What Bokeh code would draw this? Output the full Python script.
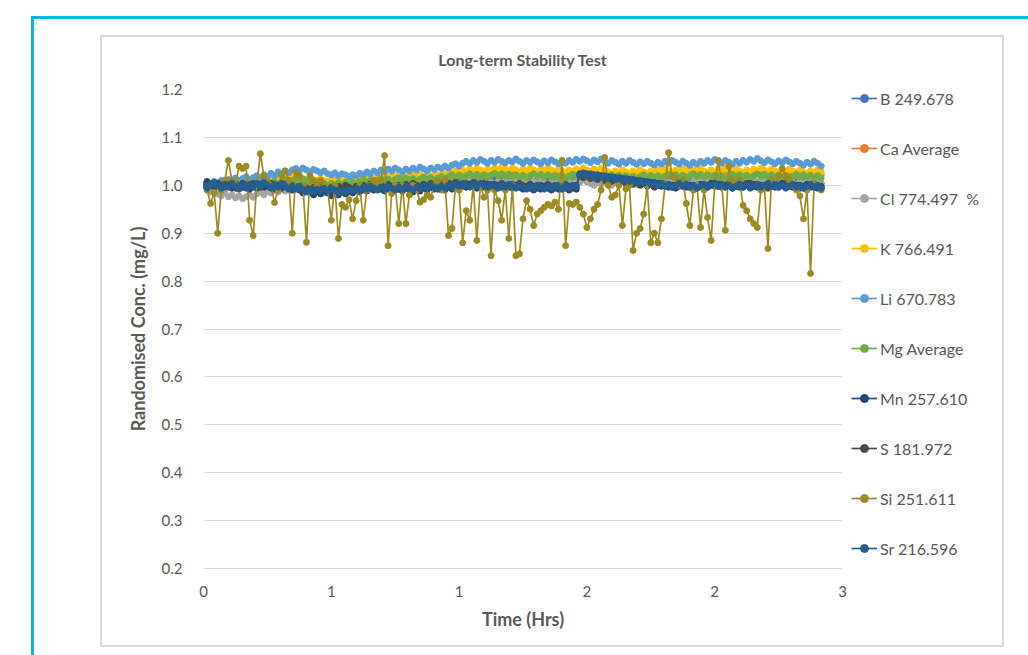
from bokeh.plotting import figure
from bokeh.layouts import row
from bokeh.models import (Legend, LegendItem, FixedTicker, NumeralTickFormatter, Range1d,
                          LinearAxis)
from bokeh.embed import file_html
from bokeh.resources import INLINE

title_text = "Long-term Stability Test"
x_label = "Time (Hrs)"
y_label = "Randomised Conc. (mg/L)"

series_names = ["B 249.678", "Ca Average", "Cl 774.497  %", "K 766.491", "Li 670.783",
                "Mg Average", "Mn 257.610", "S 181.972", "Si 251.611", "Sr 216.596"]
series_colors = ["#4472C4", "#ED7D31", "#A5A5A5", "#FFC000", "#5B9BD5",
                 "#70AD47", "#264478", "#4A4A4A", "#9C8B23", "#255E91"]

x_ticks = [0, 0.6, 1.2, 1.8, 2.4, 3]
y_ticks = [0.2, 0.3, 0.4, 0.5, 0.6, 0.7, 0.8, 0.9, 1.0, 1.1, 1.2]

b_249 = [
    1.000, 1.006, 1.002, 0.998, 1.004, 1.000, 1.006, 1.002, 0.998, 1.004, 1.000, 0.996, 1.002, 0.998, 1.004, 1.000, 1.006, 1.002, 0.998, 1.004, 1.000, 1.006, 1.002, 1.008, 1.004,
    1.010, 1.006, 1.012, 1.008, 1.004, 1.010, 1.006, 1.002, 1.008, 1.004, 1.000, 1.006, 1.002, 0.998, 1.004, 1.000, 1.006, 1.002, 1.008, 1.004, 1.010, 1.006, 1.002, 1.008, 1.004,
    1.010, 1.006, 1.002, 1.008, 1.004, 1.010, 1.006, 1.012, 1.008, 1.004, 1.010, 1.006, 1.002, 1.008, 1.004, 1.010, 1.006, 1.012, 1.008, 1.014, 1.010, 1.016, 1.012, 1.008, 1.014,
    1.010, 1.016, 1.012, 1.018, 1.014, 1.010, 1.016, 1.012, 1.008, 1.014, 1.010, 1.016, 1.012, 1.018, 1.014, 1.010, 1.016, 1.012, 1.008, 1.014, 1.010, 1.016, 1.012, 1.008, 1.014,
    1.010, 1.016, 1.012, 1.018, 1.014, 1.010, 1.016, 1.012, 1.008, 1.014, 1.010, 1.006, 1.012, 1.008, 1.014, 1.010, 1.016, 1.012, 1.008, 1.014, 1.010, 1.006, 1.012, 1.008, 1.014,
    1.010, 1.016, 1.012, 1.008, 1.014, 1.010, 1.016, 1.012, 1.018, 1.014, 1.010, 1.016, 1.012, 1.008, 1.014, 1.010, 1.006, 1.012, 1.008, 1.014, 1.010, 1.016, 1.012, 1.008, 1.014,
    1.010, 1.016, 1.012, 1.008, 1.014, 1.010, 1.006, 1.012, 1.008, 1.014, 1.010, 1.016, 1.012, 1.008, 1.014, 1.010, 1.006, 1.012, 1.008, 1.014, 1.010, 1.006, 1.012, 1.008, 1.004,
]
ca_avg = [
    1.000, 0.996, 1.002, 0.998, 1.004, 1.000, 0.996, 1.002, 1.006, 1.002, 0.998, 1.004, 1.000, 1.006, 1.002, 1.008, 1.004, 1.000, 1.006, 1.002, 1.008, 1.004, 1.010, 1.006, 1.012,
    1.008, 1.014, 1.010, 1.006, 1.012, 1.008, 1.004, 1.010, 1.006, 1.002, 1.008, 1.004, 1.010, 1.006, 1.002, 1.008, 1.004, 1.010, 1.006, 1.012, 1.008, 1.014, 1.010, 1.006, 1.012,
    1.008, 1.014, 1.010, 1.016, 1.012, 1.008, 1.014, 1.010, 1.016, 1.012, 1.018, 1.014, 1.010, 1.016, 1.012, 1.018, 1.014, 1.020, 1.016, 1.022, 1.018, 1.024, 1.020, 1.026, 1.022,
    1.028, 1.024, 1.020, 1.026, 1.022, 1.028, 1.024, 1.030, 1.026, 1.022, 1.028, 1.024, 1.030, 1.026, 1.022, 1.028, 1.024, 1.020, 1.026, 1.022, 1.028, 1.024, 1.030, 1.026, 1.022,
    1.028, 1.024, 1.020, 1.026, 1.022, 1.028, 1.024, 1.030, 1.026, 1.022, 1.028, 1.024, 1.020, 1.026, 1.022, 1.018, 1.024, 1.020, 1.026, 1.022, 1.018, 1.024, 1.020, 1.026, 1.022,
    1.018, 1.024, 1.020, 1.026, 1.022, 1.028, 1.024, 1.020, 1.026, 1.022, 1.028, 1.024, 1.030, 1.026, 1.022, 1.028, 1.024, 1.020, 1.026, 1.022, 1.028, 1.024, 1.030, 1.026, 1.022,
    1.028, 1.024, 1.020, 1.026, 1.022, 1.028, 1.024, 1.030, 1.026, 1.022, 1.028, 1.024, 1.020, 1.026, 1.022, 1.028, 1.024, 1.020, 1.026, 1.022, 1.018, 1.024, 1.020, 1.026, 1.022,
]
cl_774 = [
    1.000, 0.992, 0.986, 0.990, 0.982, 0.978, 0.984, 0.976, 0.980, 0.974, 0.978, 0.972, 0.976, 0.980, 0.975, 0.982, 0.986, 0.980, 0.988, 0.984, 0.990, 0.986, 0.992, 0.988, 0.994,
    0.990, 0.996, 0.992, 0.988, 0.994, 0.990, 0.986, 0.992, 0.988, 0.984, 0.990, 0.986, 0.992, 0.988, 0.994, 0.990, 0.986, 0.992, 0.988, 0.994, 0.990, 0.996, 0.992, 0.998, 0.994,
    1.000, 0.996, 1.002, 0.998, 0.994, 1.000, 0.996, 1.002, 0.998, 1.004, 1.000, 0.996, 1.002, 0.998, 1.004, 1.000, 1.006, 1.002, 0.998, 1.004, 1.000, 1.006, 1.002, 1.008, 1.004,
    1.010, 1.006, 1.002, 1.008, 1.004, 1.010, 1.006, 1.002, 1.008, 1.004, 1.010, 1.006, 1.012, 1.008, 1.004, 1.010, 1.006, 1.002, 1.008, 1.004, 1.010, 1.006, 1.002, 1.008, 1.004,
    1.010, 1.006, 1.012, 1.008, 1.004, 1.010, 1.006, 1.012, 1.008, 1.004, 1.000, 1.006, 1.002, 1.008, 1.004, 1.000, 1.006, 1.002, 1.008, 1.004, 1.010, 1.006, 1.002, 1.008, 1.004,
    1.010, 1.006, 1.002, 1.008, 1.004, 1.010, 1.006, 1.012, 1.008, 1.004, 1.010, 1.006, 1.002, 1.008, 1.004, 1.010, 1.006, 1.012, 1.008, 1.004, 1.000, 1.006, 1.002, 1.008, 1.004,
    1.010, 1.006, 1.002, 1.008, 1.004, 1.010, 1.006, 1.012, 1.008, 1.004, 1.010, 1.006, 1.002, 1.008, 1.004, 1.000, 1.006, 1.002, 1.008, 1.004, 1.010, 1.006, 1.002, 1.008, 1.004,
]
k_766 = [
    1.000, 1.003, 0.998, 1.004, 1.000, 1.006, 1.002, 1.008, 1.004, 1.000, 1.006, 1.002, 1.008, 1.004, 1.010, 1.006, 1.002, 1.008, 1.004, 1.010, 1.006, 1.012, 1.008, 1.014, 1.010,
    1.016, 1.012, 1.018, 1.014, 1.010, 1.016, 1.012, 1.008, 1.014, 1.010, 1.006, 1.012, 1.008, 1.004, 1.010, 1.006, 1.012, 1.008, 1.014, 1.010, 1.016, 1.012, 1.018, 1.014, 1.010,
    1.016, 1.012, 1.018, 1.014, 1.020, 1.016, 1.012, 1.018, 1.014, 1.020, 1.016, 1.022, 1.018, 1.014, 1.020, 1.016, 1.022, 1.018, 1.024, 1.020, 1.026, 1.030, 1.026, 1.032, 1.028,
    1.034, 1.030, 1.036, 1.032, 1.028, 1.034, 1.030, 1.036, 1.032, 1.038, 1.034, 1.030, 1.036, 1.032, 1.028, 1.034, 1.030, 1.036, 1.032, 1.028, 1.034, 1.030, 1.036, 1.032, 1.028,
    1.034, 1.030, 1.026, 1.032, 1.028, 1.034, 1.030, 1.036, 1.032, 1.028, 1.034, 1.030, 1.036, 1.032, 1.028, 1.024, 1.030, 1.026, 1.032, 1.028, 1.024, 1.030, 1.026, 1.032, 1.028,
    1.024, 1.030, 1.026, 1.032, 1.028, 1.034, 1.030, 1.026, 1.032, 1.028, 1.034, 1.030, 1.036, 1.032, 1.028, 1.034, 1.030, 1.026, 1.032, 1.028, 1.034, 1.030, 1.036, 1.032, 1.028,
    1.034, 1.030, 1.026, 1.032, 1.028, 1.034, 1.030, 1.036, 1.032, 1.028, 1.034, 1.030, 1.026, 1.032, 1.028, 1.034, 1.030, 1.026, 1.032, 1.028, 1.024, 1.030, 1.026, 1.032, 1.028,
]
li_670 = [
    1.000, 1.005, 1.002, 1.008, 1.004, 1.010, 1.006, 1.012, 1.008, 1.015, 1.010, 1.014, 1.018, 1.012, 1.016, 1.020, 1.015, 1.022, 1.018, 1.025, 1.020, 1.028, 1.024, 1.030, 1.026,
    1.032, 1.035, 1.030, 1.036, 1.032, 1.028, 1.033, 1.030, 1.026, 1.030, 1.024, 1.022, 1.026, 1.020, 1.024, 1.022, 1.018, 1.022, 1.020, 1.025, 1.022, 1.028, 1.024, 1.030, 1.026,
    1.032, 1.028, 1.034, 1.030, 1.036, 1.032, 1.028, 1.034, 1.030, 1.036, 1.032, 1.038, 1.034, 1.030, 1.036, 1.033, 1.038, 1.035, 1.040, 1.036, 1.042, 1.045, 1.040, 1.046, 1.050,
    1.046, 1.052, 1.048, 1.054, 1.050, 1.046, 1.052, 1.048, 1.054, 1.050, 1.047, 1.052, 1.049, 1.055, 1.050, 1.046, 1.052, 1.048, 1.053, 1.049, 1.045, 1.051, 1.047, 1.053, 1.049,
    1.045, 1.050, 1.046, 1.052, 1.048, 1.054, 1.050, 1.055, 1.051, 1.047, 1.053, 1.049, 1.055, 1.050, 1.046, 1.052, 1.048, 1.044, 1.050, 1.046, 1.052, 1.048, 1.044, 1.049, 1.045,
    1.050, 1.046, 1.042, 1.048, 1.044, 1.050, 1.046, 1.052, 1.048, 1.044, 1.050, 1.046, 1.042, 1.048, 1.044, 1.050, 1.046, 1.052, 1.048, 1.054, 1.050, 1.046, 1.052, 1.048, 1.044,
    1.050, 1.046, 1.052, 1.048, 1.054, 1.050, 1.056, 1.051, 1.047, 1.053, 1.049, 1.045, 1.051, 1.047, 1.053, 1.049, 1.045, 1.050, 1.046, 1.042, 1.048, 1.044, 1.050, 1.046, 1.040,
]
mg_avg = [
    1.000, 1.004, 0.999, 1.003, 0.998, 1.002, 1.006, 1.001, 1.005, 1.000, 1.004, 0.999, 1.003, 1.007, 1.002, 1.006, 1.001, 1.005, 1.009, 1.004, 1.008, 1.003, 1.007, 1.011, 1.006,
    1.010, 1.014, 1.009, 1.013, 1.008, 1.012, 1.007, 1.003, 1.008, 1.004, 0.999, 1.004, 1.000, 1.005, 1.001, 1.006, 1.002, 1.007, 1.003, 1.008, 1.012, 1.007, 1.011, 1.006, 1.010,
    1.014, 1.009, 1.013, 1.008, 1.012, 1.016, 1.011, 1.015, 1.010, 1.014, 1.009, 1.013, 1.017, 1.012, 1.016, 1.011, 1.015, 1.019, 1.014, 1.018, 1.022, 1.017, 1.021, 1.016, 1.020,
    1.024, 1.019, 1.023, 1.018, 1.022, 1.017, 1.021, 1.025, 1.020, 1.024, 1.019, 1.023, 1.018, 1.022, 1.017, 1.021, 1.016, 1.020, 1.024, 1.019, 1.023, 1.018, 1.022, 1.017, 1.021,
    1.016, 1.020, 1.015, 1.019, 1.023, 1.018, 1.022, 1.017, 1.021, 1.016, 1.020, 1.015, 1.019, 1.014, 1.018, 1.022, 1.017, 1.021, 1.016, 1.020, 1.015, 1.019, 1.014, 1.018, 1.022,
    1.017, 1.021, 1.016, 1.020, 1.015, 1.019, 1.023, 1.018, 1.022, 1.017, 1.021, 1.016, 1.020, 1.024, 1.019, 1.023, 1.018, 1.022, 1.017, 1.021, 1.016, 1.020, 1.015, 1.019, 1.023,
    1.018, 1.022, 1.017, 1.021, 1.016, 1.020, 1.024, 1.019, 1.023, 1.018, 1.022, 1.017, 1.021, 1.016, 1.020, 1.015, 1.019, 1.023, 1.018, 1.022, 1.017, 1.021, 1.016, 1.020, 1.015,
]
mn_257 = [
    1.000, 1.008, 1.002, 0.996, 1.004, 0.998, 1.006, 1.000, 0.994, 1.002, 0.996, 1.004, 0.998, 0.992, 1.000, 0.994, 1.002, 0.996, 1.004, 0.998, 0.992, 1.000, 0.994, 1.002, 0.996,
    0.990, 0.996, 0.990, 0.984, 0.990, 0.986, 0.980, 0.986, 0.982, 0.988, 0.984, 0.978, 0.984, 0.980, 0.986, 0.982, 0.988, 0.984, 0.990, 0.986, 0.992, 0.988, 0.994, 0.990, 0.996,
    0.992, 0.988, 0.994, 0.990, 0.996, 0.992, 0.988, 0.994, 0.990, 0.986, 0.992, 0.988, 0.994, 0.990, 0.996, 0.992, 0.998, 0.994, 0.990, 0.996, 0.992, 0.998, 0.994, 1.000, 0.996,
    1.002, 0.998, 0.994, 1.000, 0.996, 1.002, 0.998, 0.994, 1.000, 0.996, 0.992, 0.998, 0.994, 1.000, 0.996, 0.992, 0.998, 0.994, 0.990, 0.996, 0.992, 0.998, 0.994, 0.990, 0.996,
    0.992, 0.998, 0.994, 0.990, 0.996, 0.992, 1.024, 1.020, 1.024, 1.018, 1.022, 1.016, 1.020, 1.014, 1.018, 1.012, 1.016, 1.010, 1.014, 1.008, 1.012, 1.006, 1.010, 1.004, 1.008,
    1.002, 1.006, 1.000, 1.004, 0.998, 1.002, 0.996, 1.000, 0.994, 0.998, 1.002, 0.996, 1.000, 0.994, 0.998, 1.002, 0.996, 1.000, 1.004, 0.998, 1.002, 0.996, 1.000, 1.004, 0.998,
    1.002, 0.996, 1.000, 1.004, 0.998, 1.002, 0.996, 1.000, 0.994, 0.998, 1.002, 0.996, 1.000, 1.004, 0.998, 1.002, 0.996, 1.000, 0.994, 0.998, 1.002, 0.996, 1.000, 0.994, 0.998,
]
s_181 = [
    1.000, 0.996, 1.002, 0.998, 1.004, 1.000, 0.996, 1.002, 0.998, 0.994, 1.000, 0.996, 1.002, 0.998, 1.004, 1.000, 0.996, 1.002, 0.998, 1.004, 1.000, 0.996, 1.002, 0.998, 0.994,
    1.000, 0.996, 0.992, 0.998, 0.994, 0.990, 0.996, 0.992, 0.998, 0.994, 0.990, 0.996, 0.992, 0.998, 0.994, 1.000, 0.996, 0.992, 0.998, 0.994, 1.000, 0.996, 1.002, 0.998, 0.994,
    1.000, 0.996, 1.002, 0.998, 0.994, 1.000, 0.996, 1.002, 0.998, 1.004, 1.000, 0.996, 1.002, 0.998, 1.004, 1.000, 0.996, 1.002, 0.998, 1.004, 1.000, 1.006, 1.002, 0.998, 1.004,
    1.000, 1.006, 1.002, 0.998, 1.004, 1.000, 0.996, 1.002, 0.998, 1.004, 1.000, 0.996, 1.002, 0.998, 1.004, 1.000, 0.996, 1.002, 0.998, 0.994, 1.000, 0.996, 1.002, 0.998, 0.994,
    1.000, 0.996, 1.002, 0.998, 0.994, 1.000, 1.020, 1.016, 1.020, 1.014, 1.018, 1.012, 1.016, 1.010, 1.014, 1.008, 1.012, 1.006, 1.010, 1.004, 1.008, 1.002, 1.006, 1.000, 1.004,
    0.998, 1.002, 0.996, 1.000, 1.004, 0.998, 1.002, 0.996, 1.000, 1.004, 0.998, 1.002, 0.996, 1.000, 0.994, 0.998, 1.002, 0.996, 1.000, 1.004, 0.998, 1.002, 0.996, 1.000, 0.994,
    0.998, 1.002, 0.996, 1.000, 1.004, 0.998, 1.002, 0.996, 1.000, 0.994, 0.998, 1.002, 0.996, 1.000, 1.004, 0.998, 1.002, 0.996, 1.000, 0.994, 0.998, 1.002, 0.996, 1.000, 0.994,
]
si_251 = [
    1.000, 0.990, 0.962, 0.985, 0.900, 0.990, 1.010, 1.052, 1.010, 1.000, 1.040, 1.035, 1.040, 0.927, 0.895, 1.000, 1.066, 1.020, 1.006, 1.000, 0.964, 0.990, 1.020, 1.030, 1.010,
    0.900, 1.027, 1.020, 1.000, 0.881, 1.020, 1.010, 1.000, 1.010, 1.000, 0.990, 0.927, 1.000, 0.889, 0.960, 0.954, 0.970, 0.930, 0.968, 1.000, 0.927, 0.990, 1.000, 1.010, 1.000,
    1.010, 1.062, 0.874, 0.983, 1.000, 0.920, 1.000, 0.920, 0.980, 1.000, 0.990, 0.965, 0.970, 0.980, 0.975, 1.000, 1.010, 0.990, 1.010, 0.895, 0.910, 1.000, 0.990, 0.880, 0.947,
    0.927, 1.000, 0.885, 1.000, 0.975, 0.990, 0.853, 0.990, 0.968, 0.927, 0.990, 0.889, 1.000, 0.853, 0.857, 0.930, 0.968, 0.950, 0.916, 0.940, 0.947, 0.954, 0.960, 0.957, 0.965,
    0.950, 1.052, 0.874, 0.962, 0.960, 0.965, 0.954, 0.940, 0.912, 0.930, 0.950, 0.960, 0.990, 1.058, 1.000, 0.975, 0.980, 1.000, 0.916, 0.993, 1.000, 0.864, 0.900, 0.910, 0.940,
    1.000, 0.880, 0.900, 0.880, 0.930, 1.000, 1.068, 1.020, 1.014, 1.000, 1.010, 0.962, 0.916, 0.990, 1.000, 0.912, 0.990, 0.933, 0.885, 1.000, 1.052, 1.000, 0.906, 1.040, 1.010,
    1.000, 1.010, 0.958, 0.947, 0.930, 0.920, 0.912, 0.990, 1.000, 0.868, 1.010, 1.000, 1.020, 1.035, 1.020, 1.010, 1.000, 0.990, 0.978, 0.930, 0.990, 0.816, 1.004, 1.000, 0.990,
]
sr_216 = [
    1.000, 0.994, 1.000, 1.006, 1.000, 0.994, 1.002, 0.996, 1.004, 0.998, 0.992, 1.000, 0.994, 1.002, 0.996, 1.004, 0.998, 1.006, 1.000, 0.994, 1.002, 0.996, 1.004, 0.998, 0.992,
    0.998, 0.992, 0.998, 0.992, 0.986, 0.992, 0.986, 0.992, 0.988, 0.994, 0.988, 0.994, 0.990, 0.984, 0.990, 0.986, 0.992, 0.988, 0.994, 0.990, 0.996, 0.992, 0.998, 0.994, 0.990,
    0.996, 0.992, 0.998, 0.994, 0.990, 0.996, 0.992, 0.998, 0.994, 0.990, 0.996, 0.992, 0.998, 0.994, 1.000, 0.996, 0.992, 0.998, 0.994, 1.000, 0.996, 1.002, 0.998, 1.004, 1.000,
    0.996, 1.002, 0.998, 1.004, 1.000, 0.996, 1.002, 0.998, 0.994, 1.000, 0.996, 1.002, 0.998, 0.994, 1.000, 0.996, 0.992, 0.998, 0.994, 1.000, 0.996, 0.992, 0.998, 0.994, 1.000,
    0.996, 0.992, 0.998, 0.994, 1.000, 0.996, 1.022, 1.026, 1.020, 1.024, 1.018, 1.022, 1.016, 1.020, 1.014, 1.018, 1.012, 1.016, 1.010, 1.014, 1.008, 1.012, 1.006, 1.010, 1.004,
    1.008, 1.002, 1.006, 1.000, 1.004, 0.998, 1.002, 0.996, 1.000, 1.004, 0.998, 1.002, 0.996, 1.000, 0.994, 0.998, 1.002, 0.996, 1.000, 1.004, 0.998, 1.002, 0.996, 1.000, 0.994,
    0.998, 1.002, 0.996, 1.000, 0.994, 0.998, 1.002, 0.996, 1.000, 1.004, 0.998, 1.002, 0.996, 1.000, 0.994, 0.998, 1.002, 0.996, 1.000, 0.994, 0.998, 1.002, 0.996, 1.000, 0.994,
]

series_values = [b_249, ca_avg, cl_774, k_766, li_670, mg_avg, mn_257, s_181, si_251, sr_216]
reading_interval_hrs = 1 / 60  # one reading per minute

FONT = "Lato"
TXT = "#595959"
GRID = "#D9D9D9"
LINE_W = 1.7
MARK = 6

# ---- main plot: canvas 748 x 608, plot area 101..740 x 52..531 ----
p = figure(width=748, height=608, output_backend="svg", toolbar_location=None,
           x_range=Range1d(0, 3), y_range=Range1d(0.2, 1.2),
           min_border_left=101, min_border_right=8, min_border_top=52, min_border_bottom=77)
p.background_fill_color = "white"
p.border_fill_color = "white"
p.outline_line_color = None

# chart title, carried by a tick-less axis above the plot area
title_axis = LinearAxis(ticker=FixedTicker(ticks=[]), axis_label=title_text,
                        axis_line_color=None, major_tick_out=0, major_tick_in=0,
                        minor_tick_out=0, minor_tick_in=0, major_label_standoff=0,
                        axis_label_standoff=21, axis_label_text_font=FONT,
                        axis_label_text_font_size="16px", axis_label_text_font_style="bold",
                        axis_label_text_color=TXT)
p.add_layout(title_axis, "above")

series_times = []
for name, color, vals in zip(series_names, series_colors, series_values):
    t = [k * reading_interval_hrs for k in range(len(vals))]
    series_times.append(t)
    p.line(t, vals, line_color=color, line_width=LINE_W)
    p.scatter(t, vals, size=MARK, fill_color=color, line_color=color, marker="circle")

xa = p.below[0]
xa.ticker = FixedTicker(ticks=x_ticks)
xa.formatter = NumeralTickFormatter(format="0")
xa.axis_label = x_label
ya = p.left[0]
ya.ticker = FixedTicker(ticks=y_ticks)
ya.formatter = NumeralTickFormatter(format="0.0")
ya.axis_label = y_label
for ax in (xa, ya):
    ax.major_tick_line_color = None
    ax.minor_tick_line_color = None
    ax.major_label_text_font = FONT
    ax.major_label_text_font_size = "15px"
    ax.major_label_text_color = TXT
    ax.axis_label_text_font = FONT
    ax.axis_label_text_font_size = "18px"
    ax.axis_label_text_font_style = "bold"
    ax.axis_label_text_color = TXT
xa.axis_line_color = GRID
ya.axis_line_color = None
xa.major_label_standoff = 11
ya.major_label_standoff = 15
xa.axis_label_standoff = 8
ya.axis_label_standoff = 10

p.xgrid.grid_line_color = None
p.ygrid.grid_line_color = GRID
p.ygrid.ticker = FixedTicker(ticks=y_ticks)

# ---- legend panel: canvas 152 x 608 to the right of the plot ----
# (its view window lies below the data, so its series renderers only feed the legend)
pl = figure(width=152, height=608, output_backend="svg", toolbar_location=None,
            x_range=Range1d(0, 1), y_range=Range1d(0, 0.5),
            x_axis_location=None, y_axis_location=None,
            min_border_left=0, min_border_right=0, min_border_top=0, min_border_bottom=0)
pl.background_fill_color = "white"
pl.border_fill_color = "white"
pl.outline_line_color = None
pl.grid.visible = False

legend_items = []
for name, color, vals, t in zip(series_names, series_colors, series_values, series_times):
    r1 = pl.line(t, vals, line_color=color, line_width=LINE_W)
    r2 = pl.scatter(t, vals, size=MARK, fill_color=color, line_color=color, marker="circle")
    legend_items.append(LegendItem(label=name, renderers=[r1, r2]))

legend = Legend(items=legend_items, location=(1, 10), orientation="vertical",
                background_fill_alpha=0, border_line_color=None, padding=0, margin=0,
                spacing=30, glyph_width=26, glyph_height=20, label_height=20,
                label_standoff=3, label_text_font=FONT, label_text_font_size="16px",
                label_text_line_height=1.0, label_text_color=TXT)
pl.add_layout(legend)

# the row is the grey-bordered chart area; the cyan page frame is drawn as two
# stacked CSS shadows (cyan under white)
chart = row(p, pl, spacing=0, margin=(37, 0, 0, 102),
            styles={"outline": "2px solid #D9D9D9",
                    "box-shadow": "-18px 32px 0 50px #FFFFFF, -21px 29px 0 50px #0BB4E8"})

open("out.html", "w").write(file_html(chart, INLINE))
